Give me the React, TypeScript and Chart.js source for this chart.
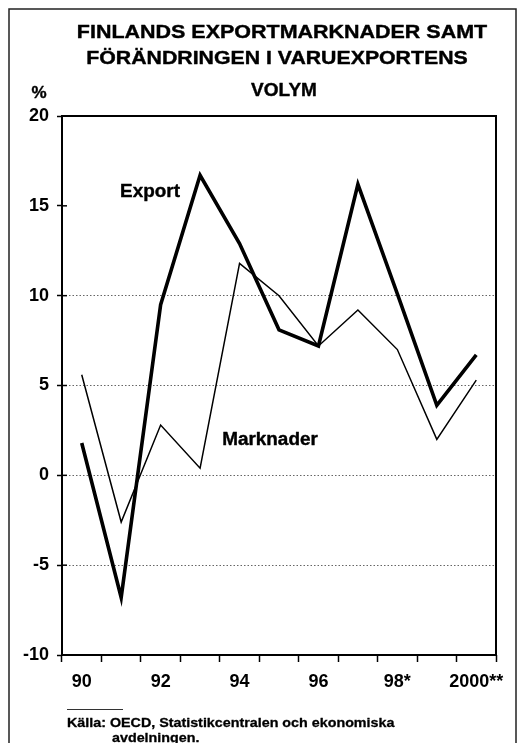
import { useEffect, useRef } from 'react';
import { Chart, registerables } from 'chart.js';

Chart.register(...registerables);

const categories = ['90', '91', '92', '93', '94', '95', '96', '97', '98', '99', '2000'];
const tickLabels = ['90', '', '92', '', '94', '', '96', '', '98*', '', '2000**'];
const exportValues = [1.8, -6.8, 9.5, 16.7, 12.9, 8.1, 7.2, 16.2, 10.1, 3.9, 6.7];
const marketValues = [5.6, -2.6, 2.8, 0.4, 11.8, 10.0, 7.2, 9.2, 7.0, 2.0, 5.3];
const gridValues = [-5, 0, 5, 10];
const titleLines = ['FINLANDS EXPORTMARKNADER SAMT', 'FÖRÄNDRINGEN I VARUEXPORTENS', 'VOLYM'];
const sourceLines = ['Källa: OECD, Statistikcentralen och ekonomiska', 'avdelningen.'];
const unitLabel = '%';
const seriesNames = ['Export', 'Marknader'];

const FONT = "'Liberation Sans', Arial, Helvetica, sans-serif";

function drawText(
  ctx: CanvasRenderingContext2D,
  text: string,
  x: number,
  y: number,
  size: number,
  align: 'left' | 'center' | 'right',
  stretch = 1,
  heavy = 0.4
) {
  ctx.save();
  ctx.font = `bold ${size}px ${FONT}`;
  ctx.textBaseline = 'alphabetic';
  ctx.textAlign = 'left';
  const w = ctx.measureText(text).width * stretch;
  const left = align === 'center' ? x - w / 2 : align === 'right' ? x - w : x;
  ctx.translate(left, y);
  ctx.scale(stretch, 1);
  ctx.fillStyle = '#000';
  ctx.fillText(text, 0, 0);
  if (heavy > 0) {
    ctx.strokeStyle = '#000';
    ctx.lineWidth = heavy;
    ctx.lineJoin = 'round';
    ctx.strokeText(text, 0, 0);
  }
  ctx.restore();
}

const decorPlugin = {
  id: 'decor',
  beforeDraw(chart: any) {
    const ctx = chart.ctx as CanvasRenderingContext2D;
    ctx.save();
    ctx.fillStyle = '#fff';
    ctx.fillRect(0, 0, chart.width, chart.height);
    ctx.restore();
  },
  afterDraw(chart: any) {
    const ctx = chart.ctx as CanvasRenderingContext2D;
    const area = chart.chartArea;
    const y = chart.scales.y;

    // plot frame
    ctx.save();
    ctx.strokeStyle = '#000';
    ctx.lineWidth = 2;
    ctx.strokeRect(area.left, area.top, area.right - area.left, area.bottom - area.top);
    // inner parts of y ticks
    ctx.lineWidth = 1.5;
    for (const t of y.ticks) {
      const py = y.getPixelForValue(t.value);
      ctx.beginPath();
      ctx.moveTo(area.left, py);
      ctx.lineTo(area.left + 5, py);
      ctx.stroke();
    }
    // outer frame
    ctx.lineWidth = 1.5;
    ctx.strokeStyle = '#222';
    ctx.beginPath();
    ctx.moveTo(9, chart.height + 5);
    ctx.lineTo(9, 9);
    ctx.lineTo(516, 9);
    ctx.lineTo(516, chart.height + 5);
    ctx.stroke();
    ctx.restore();

    // title
    drawText(ctx, titleLines[0], 282, 38, 19, 'center', 1.13);
    drawText(ctx, titleLines[1], 277, 64, 19, 'center', 1.12);
    drawText(ctx, titleLines[2], 284, 96, 19, 'center', 1.0);
    drawText(ctx, unitLabel, 39, 98, 17, 'center');

    // series labels
    drawText(ctx, seriesNames[0], 150, 197, 18, 'center', 1.05);
    drawText(ctx, seriesNames[1], 270, 445, 18, 'center', 1.05);

    // source
    ctx.save();
    ctx.strokeStyle = '#333';
    ctx.lineWidth = 1;
    ctx.beginPath();
    ctx.moveTo(67, 709.5);
    ctx.lineTo(123, 709.5);
    ctx.stroke();
    ctx.restore();
    drawText(ctx, sourceLines[0], 67, 727, 13, 'left', 1.1, 0.3);
    drawText(ctx, sourceLines[1], 112, 742, 13, 'left', 1.1, 0.3);
  },
};

export default function App() {
  const ref = useRef<HTMLCanvasElement | null>(null);

  useEffect(() => {
    if (!ref.current) return;
    const chart = new Chart(ref.current, {
      type: 'line',
      data: {
        labels: categories,
        datasets: [
          {
            label: seriesNames[0],
            data: exportValues,
            borderColor: '#000',
            borderWidth: 3.6,
            pointRadius: 0,
            tension: 0,
            borderJoinStyle: 'miter',
            fill: false,
          },
          {
            label: seriesNames[1],
            data: marketValues,
            borderColor: '#000',
            borderWidth: 1.5,
            pointRadius: 0,
            tension: 0,
            borderJoinStyle: 'miter',
            fill: false,
          },
        ],
      },
      options: {
        responsive: false,
        animation: false,
        devicePixelRatio: 1,
        layout: { padding: { top: 116, right: 22, left: 0, bottom: 0 } },
        plugins: {
          legend: { display: false },
          title: { display: false },
          tooltip: { enabled: false },
        },
        scales: {
          x: {
            type: 'category',
            offset: true,
            grid: {
              offset: true,
              drawOnChartArea: false,
              drawTicks: true,
              tickLength: 7,
              tickColor: '#000',
              tickWidth: 1.5,
              color: '#000',
            },
            border: { display: false },
            ticks: {
              autoSkip: false,
              maxRotation: 0,
              padding: 9,
              color: '#000',
              font: { family: FONT, size: 18, weight: 'bold' },
              callback: (_v: any, i: number) => tickLabels[i],
            },
            afterFit: (s: any) => {
              s.height = 743 - 655;
            },
          },
          y: {
            min: -10,
            max: 20,
            ticks: {
              stepSize: 5,
              padding: 8,
              color: '#000',
              font: { family: FONT, size: 18, weight: 'bold' },
            },
            grid: {
              drawTicks: true,
              tickLength: 5,
              tickColor: '#000',
              tickWidth: 1.5,
              lineWidth: 1,
              color: (c: any) => (gridValues.includes(c.tick?.value) ? '#666' : 'rgba(0,0,0,0)'),
            },
            border: { display: false, dash: [1.5, 2] },
            afterFit: (s: any) => {
              s.width = 62;
            },
          },
        },
      },
      plugins: [decorPlugin],
    });
    return () => chart.destroy();
  }, []);

  return (
    <div style={{ position: 'absolute', left: 0, top: 0, width: 518, height: 743, background: '#fff' }}>
      <canvas ref={ref} width={518} height={743} style={{ display: 'block' }} />
    </div>
  );
}
